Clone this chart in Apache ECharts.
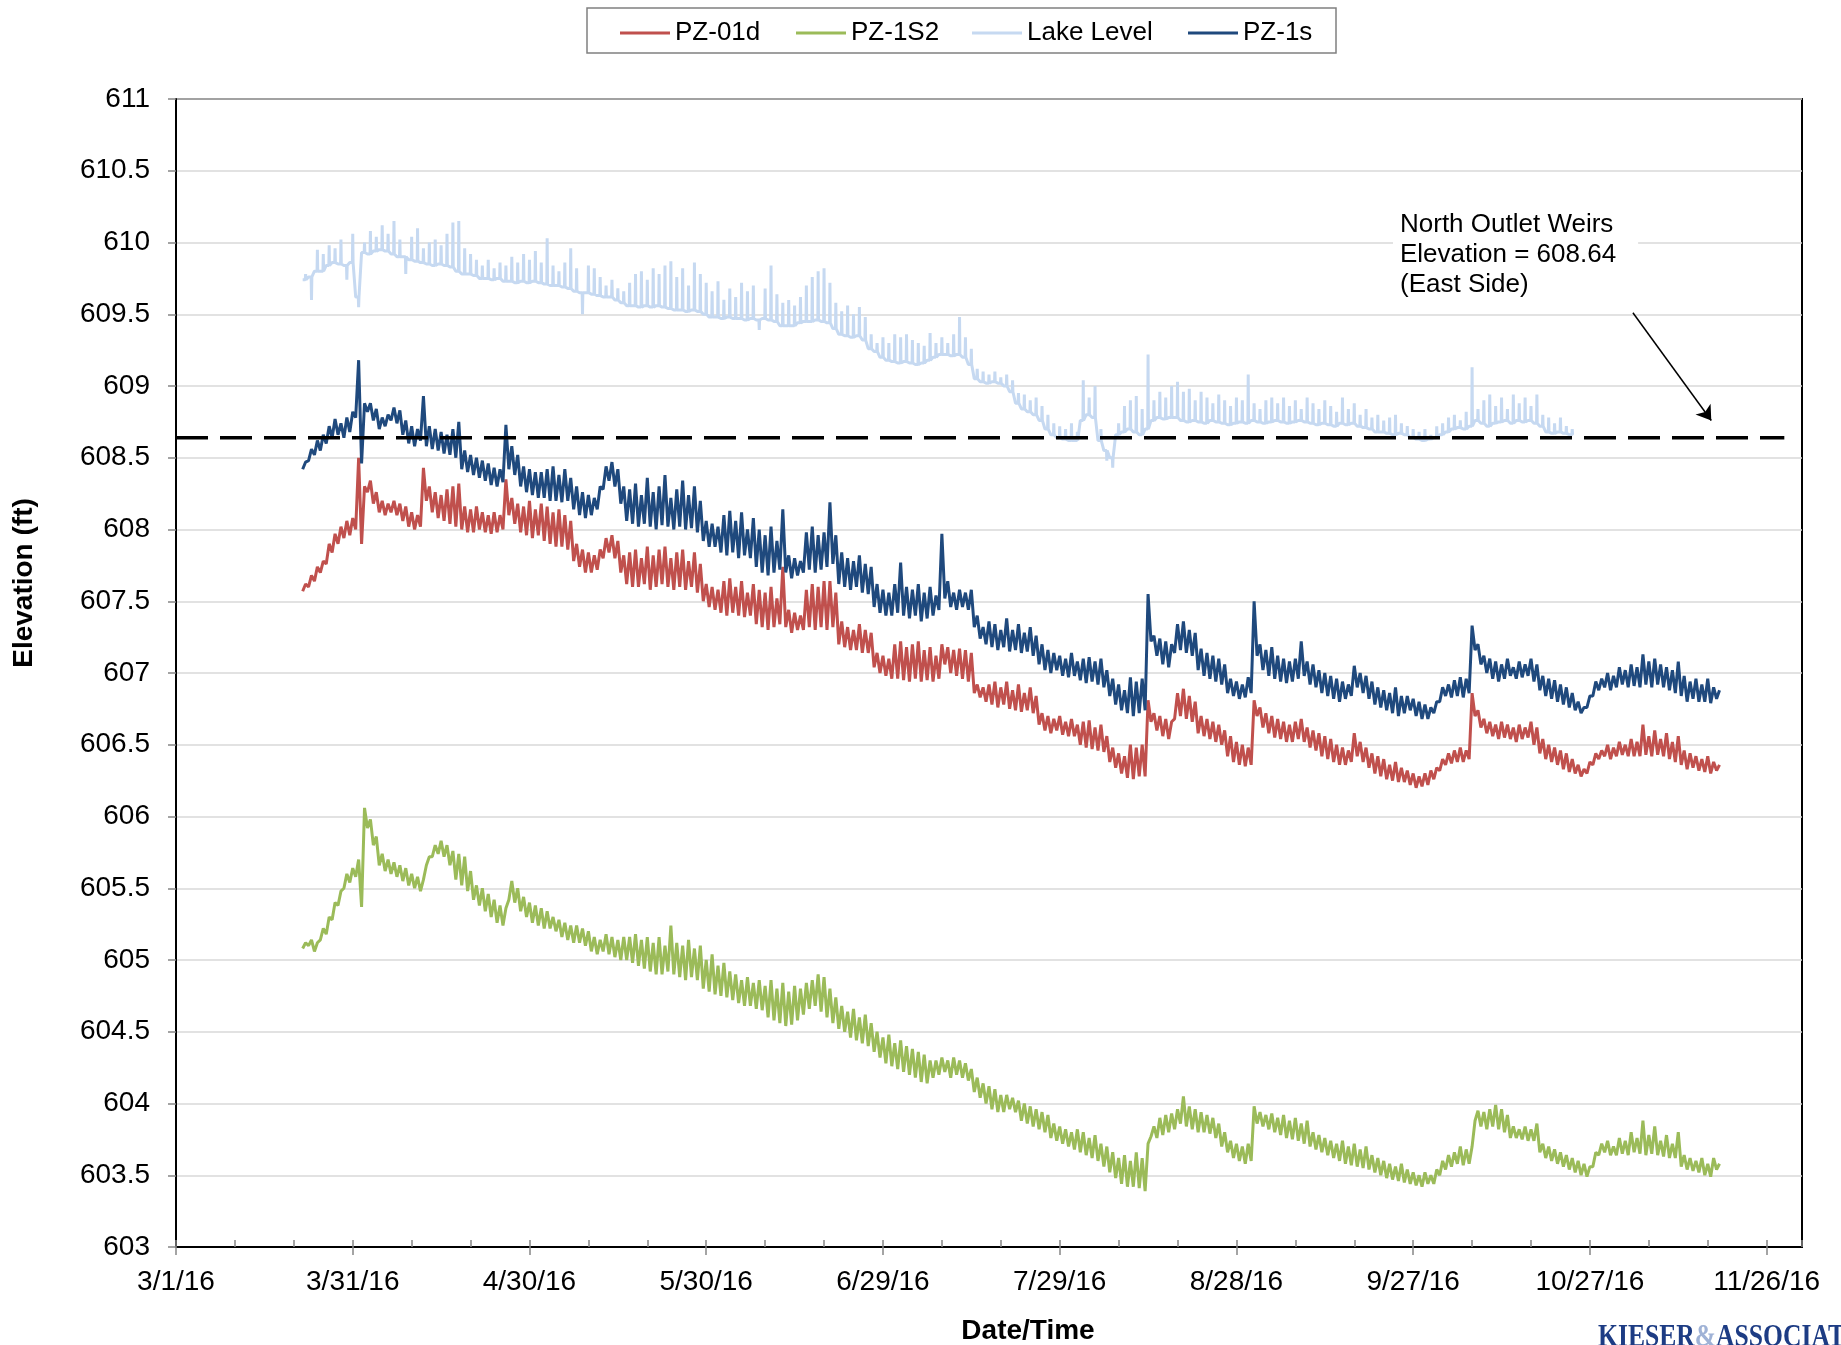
<!DOCTYPE html>
<html>
<head>
<meta charset="utf-8">
<script src="https://cdn.jsdelivr.net/npm/echarts@6/dist/echarts.min.js"></script>
<style>
  html, body { margin: 0; padding: 0; background: #fff; }
  #chart { width: 1841px; height: 1345px; }
</style>
</head>
<body>
<div id="chart"></div>
<script>
// Days are counted from 3/1/16. Each logger series holds one daily low and one daily high,
// beginning at START_DAY; the lake record holds a daily base level and a daily spike reading.
const START_DAY = 21.5;
const X_TICK_DAYS = [0, 276];          // axis span in days
const Y_RANGE = [603, 611];
const WEIR_ELEVATION = 608.64;
const WEIR_SPAN = [0, 273];
const ARROW_FROM = [247.3, 609.51];
const ARROW_TO = [260.6, 608.76];

const pz1sLo = [
  608.42, 608.48, 608.52, 608.55, 608.60, 608.64, 608.66, 608.64, 608.68, 608.78,
  608.46, 608.82, 608.76, 608.70, 608.72, 608.76, 608.74, 608.66, 608.60, 608.58,
  608.62, 608.58, 608.56, 608.55, 608.53, 608.52, 608.50, 608.42, 608.40, 608.38,
  608.36, 608.34, 608.31, 608.30, 608.33, 608.42, 608.38, 608.30, 608.26, 608.24,
  608.22, 608.22, 608.20, 608.20, 608.19, 608.20, 608.14, 608.10, 608.08, 608.10,
  608.14, 608.28, 608.34, 608.30, 608.18, 608.06, 608.04, 608.02, 608.04, 608.02,
  608.00, 608.03, 608.02, 608.00, 608.02, 608.00, 608.01, 607.98, 607.92, 607.88,
  607.88, 607.84, 607.82, 607.84, 607.80, 607.82, 607.80, 607.74, 607.70, 607.68,
  607.70, 607.72, 607.70, 607.66, 607.68, 607.70, 607.72, 607.70, 607.72, 607.74,
  607.76, 607.62, 607.60, 607.58, 607.60, 607.56, 607.55, 607.46, 607.42, 607.40,
  607.40, 607.42, 607.40, 607.38, 607.40, 607.36, 607.38, 607.40, 607.44, 607.52,
  607.46, 607.44, 607.46, 607.44, 607.32, 607.24, 607.20, 607.18, 607.16, 607.18,
  607.15, 607.16, 607.14, 607.15, 607.12, 607.06, 607.02, 607.00, 607.02, 606.98,
  606.97, 606.98, 606.95, 606.93, 606.94, 606.92, 606.90, 606.84, 606.78, 606.74,
  606.72, 606.70, 606.72, 606.74, 607.22, 607.12, 607.06, 607.04, 607.14, 607.16,
  607.14, 607.12, 607.02, 606.98, 606.96, 606.94, 606.92, 606.86, 606.84, 606.82,
  606.83, 606.86, 607.12, 607.02, 606.98, 606.96, 606.94, 606.93, 606.94, 606.96,
  606.98, 606.92, 606.90, 606.86, 606.84, 606.82, 606.80, 606.82, 606.84, 606.90,
  606.86, 606.82, 606.78, 606.76, 606.74, 606.72, 606.70, 606.72, 606.74, 606.70,
  606.68, 606.68, 606.72, 606.80, 606.84, 606.83, 606.84, 606.83, 606.86, 607.16,
  607.06, 607.00, 606.96, 606.94, 606.96, 606.98, 606.96, 606.97, 606.98, 606.94,
  606.88, 606.84, 606.82, 606.80, 606.78, 606.76, 606.74, 606.72, 606.76, 606.84,
  606.88, 606.90, 606.88, 606.90, 606.92, 606.90, 606.91, 606.90, 606.92, 606.90,
  606.92, 606.90, 606.88, 606.86, 606.84, 606.80, 606.82, 606.80, 606.80, 606.79,
  606.82
];
const pz1sHi = [
  608.47, 608.56, 608.62, 608.66, 608.72, 608.77, 608.74, 608.78, 608.82, 609.18,
  608.88, 608.88, 608.84, 608.78, 608.80, 608.85, 608.83, 608.76, 608.72, 608.70,
  608.93, 608.72, 608.70, 608.68, 608.66, 608.70, 608.75, 608.55, 608.52, 608.50,
  608.48, 608.46, 608.43, 608.42, 608.73, 608.58, 608.52, 608.44, 608.42, 608.40,
  608.40, 608.42, 608.44, 608.38, 608.42, 608.36, 608.30, 608.26, 608.24, 608.22,
  608.30, 608.44, 608.47, 608.42, 608.30, 608.28, 608.32, 608.24, 608.36, 608.26,
  608.30, 608.38, 608.22, 608.28, 608.34, 608.24, 608.30, 608.20, 608.06, 608.04,
  608.02, 608.10, 608.13, 608.06, 608.12, 608.00, 608.08, 608.00, 607.96, 608.02,
  607.92, 608.14, 607.82, 607.80, 607.78, 607.98, 608.02, 607.96, 607.98, 608.19,
  607.96, 607.84, 607.80, 607.78, 607.82, 607.76, 607.74, 607.62, 607.58, 607.56,
  607.62, 607.77, 607.60, 607.58, 607.62, 607.56, 607.60, 607.54, 607.97, 607.64,
  607.56, 607.58, 607.56, 607.58, 607.40, 607.32, 607.36, 607.34, 607.30, 607.38,
  607.30, 607.34, 607.28, 607.32, 607.26, 607.20, 607.16, 607.14, 607.12, 607.10,
  607.14, 607.08, 607.10, 607.11, 607.08, 607.10, 607.02, 606.96, 606.92, 606.88,
  606.97, 606.94, 606.96, 607.55, 607.26, 607.24, 607.22, 607.20, 607.34, 607.36,
  607.30, 607.28, 607.17, 607.14, 607.12, 607.10, 607.06, 606.96, 606.94, 606.92,
  606.97, 607.50, 607.20, 607.16, 607.18, 607.12, 607.10, 607.08, 607.10, 607.22,
  607.08, 607.06, 607.02, 607.00, 606.98, 606.96, 606.94, 606.92, 607.05, 607.00,
  606.98, 606.94, 606.90, 606.88, 606.86, 606.90, 606.84, 606.84, 606.82, 606.80,
  606.78, 606.76, 606.80, 606.90, 606.92, 606.95, 606.97, 606.96, 607.33, 607.20,
  607.12, 607.10, 607.08, 607.06, 607.10, 607.04, 607.08, 607.06, 607.10, 607.06,
  606.98, 606.96, 606.95, 606.92, 606.90, 606.86, 606.80, 606.76, 606.84, 606.94,
  606.96, 607.00, 606.98, 607.04, 607.02, 607.06, 607.04, 607.13, 607.08, 607.10,
  607.06, 607.04, 607.02, 607.08, 606.98, 606.94, 606.96, 606.92, 606.96, 606.90,
  606.88
];

const pz01dLo = [
  607.57, 607.60, 607.64, 607.70, 607.76, 607.84, 607.90, 607.94, 607.96, 608.00,
  607.90, 608.26, 608.18, 608.12, 608.10, 608.12, 608.10, 608.06, 608.02, 608.00,
  608.02, 608.20, 608.12, 608.08, 608.06, 608.04, 608.02, 608.00, 607.98, 607.98,
  608.00, 607.98, 607.97, 607.98, 608.00, 608.10, 608.04, 607.98, 607.96, 607.94,
  607.96, 607.92, 607.90, 607.88, 607.88, 607.86, 607.78, 607.74, 607.70, 607.70,
  607.72, 607.80, 607.84, 607.80, 607.70, 607.62, 607.60, 607.60, 607.62, 607.58,
  607.60, 607.62, 607.60, 607.58, 607.60, 607.58, 607.60, 607.56, 607.50, 607.46,
  607.44, 607.42, 607.40, 607.42, 607.40, 607.39, 607.40, 607.34, 607.32, 607.30,
  607.32, 607.34, 607.32, 607.28, 607.30, 607.30, 607.32, 607.30, 607.32, 607.30,
  607.32, 607.20, 607.18, 607.16, 607.16, 607.14, 607.14, 607.04, 607.00, 606.98,
  606.96, 606.96, 606.95, 606.94, 606.96, 606.94, 606.95, 606.94, 606.96, 607.06,
  607.00, 606.98, 606.96, 606.94, 606.86, 606.83, 606.80, 606.78, 606.76, 606.78,
  606.75, 606.74, 606.73, 606.74, 606.72, 606.64, 606.60, 606.58, 606.60, 606.57,
  606.56, 606.56, 606.50, 606.48, 606.47, 606.46, 606.45, 606.38, 606.34, 606.30,
  606.27, 606.26, 606.28, 606.28, 606.66, 606.60, 606.56, 606.54, 606.68, 606.70,
  606.68, 606.66, 606.58, 606.56, 606.54, 606.52, 606.50, 606.42, 606.38, 606.36,
  606.35, 606.36, 606.70, 606.62, 606.58, 606.55, 606.54, 606.52, 606.52, 606.54,
  606.52, 606.48, 606.46, 606.42, 606.40, 606.38, 606.36, 606.36, 606.38, 606.42,
  606.38, 606.34, 606.30, 606.28, 606.26, 606.25, 606.24, 606.24, 606.22, 606.20,
  606.21, 606.22, 606.26, 606.32, 606.36, 606.37, 606.38, 606.38, 606.40, 606.70,
  606.62, 606.58, 606.56, 606.54, 606.55, 606.54, 606.52, 606.54, 606.55, 606.50,
  606.44, 606.40, 606.38, 606.36, 606.33, 606.31, 606.30, 606.28, 606.30, 606.36,
  606.40, 606.42, 606.40, 606.42, 606.43, 606.42, 606.42, 606.42, 606.43, 606.42,
  606.43, 606.42, 606.40, 606.38, 606.36, 606.33, 606.34, 606.32, 606.31, 606.30,
  606.32
];
const pz01dHi = [
  607.62, 607.68, 607.74, 607.78, 607.90, 607.97, 608.02, 608.06, 608.08, 608.50,
  608.30, 608.34, 608.26, 608.20, 608.18, 608.20, 608.18, 608.16, 608.12, 608.10,
  608.43, 608.30, 608.26, 608.24, 608.28, 608.30, 608.32, 608.16, 608.14, 608.16,
  608.12, 608.10, 608.12, 608.10, 608.35, 608.22, 608.18, 608.16, 608.20, 608.14,
  608.18, 608.16, 608.12, 608.14, 608.10, 608.06, 607.90, 607.86, 607.84, 607.82,
  607.86, 607.94, 607.96, 607.92, 607.82, 607.84, 607.86, 607.80, 607.88, 607.82,
  607.86, 607.88, 607.80, 607.84, 607.86, 607.78, 607.84, 607.76, 607.62, 607.60,
  607.58, 607.64, 607.66, 607.60, 607.64, 607.56, 607.62, 607.58, 607.56, 607.60,
  607.52, 607.74, 607.44, 607.42, 607.40, 607.58, 607.62, 607.60, 607.64, 607.64,
  607.56, 607.36, 607.32, 607.30, 607.34, 607.30, 607.28, 607.14, 607.12, 607.10,
  607.20, 607.22, 607.18, 607.20, 607.22, 607.16, 607.18, 607.12, 607.20, 607.18,
  607.16, 607.17, 607.16, 607.14, 606.92, 606.90, 606.92, 606.94, 606.90, 606.94,
  606.88, 606.92, 606.86, 606.90, 606.84, 606.72, 606.70, 606.68, 606.70, 606.66,
  606.68, 606.64, 606.66, 606.67, 606.62, 606.64, 606.56, 606.48, 606.44, 606.42,
  606.50, 606.48, 606.50, 606.81, 606.72, 606.70, 606.68, 606.66, 606.86, 606.89,
  606.84, 606.80, 606.70, 606.68, 606.66, 606.64, 606.60, 606.56, 606.52, 606.50,
  606.48, 606.81, 606.76, 606.72, 606.70, 606.68, 606.66, 606.64, 606.66, 606.68,
  606.62, 606.60, 606.58, 606.56, 606.54, 606.50, 606.48, 606.46, 606.58, 606.52,
  606.48, 606.44, 606.42, 606.40, 606.36, 606.38, 606.34, 606.32, 606.30, 606.28,
  606.30, 606.32, 606.34, 606.40, 606.44, 606.46, 606.48, 606.46, 606.86, 606.74,
  606.68, 606.66, 606.64, 606.66, 606.64, 606.62, 606.64, 606.62, 606.66, 606.62,
  606.54, 606.50, 606.48, 606.46, 606.44, 606.40, 606.36, 606.33, 606.38, 606.44,
  606.46, 606.50, 606.48, 606.52, 606.50, 606.54, 606.52, 606.64, 606.56, 606.60,
  606.54, 606.58, 606.52, 606.56, 606.46, 606.44, 606.42, 606.40, 606.42, 606.38,
  606.36
];

const pz1s2Lo = [
  605.08, 605.10, 605.06, 605.14, 605.18, 605.28, 605.38, 605.50, 605.54, 605.58,
  605.37, 605.92, 605.80, 605.66, 605.62, 605.60, 605.58, 605.55, 605.52, 605.50,
  605.48, 605.66, 605.72, 605.74, 605.72, 605.66, 605.56, 605.52, 605.48, 605.42,
  605.38, 605.34, 605.30, 605.26, 605.24, 605.42, 605.40, 605.34, 605.30, 605.26,
  605.24, 605.22, 605.22, 605.20, 605.16, 605.14, 605.12, 605.12, 605.10, 605.06,
  605.04, 605.06, 605.04, 605.02, 605.00, 605.00, 604.98, 604.96, 604.94, 604.92,
  604.90, 604.90, 604.92, 604.90, 604.88, 604.86, 604.88, 604.86, 604.80, 604.78,
  604.76, 604.75, 604.74, 604.72, 604.70, 604.68, 604.68, 604.66, 604.65, 604.60,
  604.58, 604.56, 604.54, 604.55, 604.58, 604.62, 604.66, 604.68, 604.64, 604.60,
  604.56, 604.52, 604.50, 604.46, 604.44, 604.42, 604.40, 604.36, 604.32, 604.28,
  604.26, 604.24, 604.22, 604.20, 604.18, 604.15, 604.14, 604.18, 604.20, 604.22,
  604.18, 604.20, 604.18, 604.16, 604.08, 604.04, 604.00, 603.96, 603.94, 603.94,
  603.96, 603.94, 603.88, 603.86, 603.84, 603.82, 603.80, 603.76, 603.74, 603.72,
  603.70, 603.68, 603.66, 603.64, 603.62, 603.60, 603.56, 603.52, 603.48, 603.44,
  603.42, 603.42, 603.41, 603.39, 603.77, 603.76, 603.78, 603.80, 603.82, 603.86,
  603.84, 603.82, 603.80, 603.80, 603.79, 603.76, 603.70, 603.66, 603.62, 603.60,
  603.58, 603.60, 603.86, 603.84, 603.82, 603.80, 603.78, 603.76, 603.75, 603.74,
  603.72, 603.70, 603.68, 603.66, 603.64, 603.62, 603.60, 603.58, 603.57, 603.56,
  603.55, 603.54, 603.52, 603.50, 603.48, 603.47, 603.46, 603.45, 603.44, 603.43,
  603.42, 603.44, 603.44, 603.50, 603.54, 603.56, 603.58, 603.57, 603.58, 603.88,
  603.84, 603.82, 603.84, 603.82, 603.80, 603.76, 603.76, 603.75, 603.74, 603.74,
  603.66, 603.62, 603.60, 603.58, 603.56, 603.54, 603.52, 603.50, 603.49, 603.56,
  603.64, 603.66, 603.64, 603.64, 603.65, 603.64, 603.66, 603.65, 603.64, 603.65,
  603.64, 603.63, 603.62, 603.62, 603.56, 603.54, 603.53, 603.52, 603.50, 603.49,
  603.54
];
const pz1s2Hi = [
  605.12, 605.14, 605.12, 605.22, 605.30, 605.40, 605.48, 605.60, 605.64, 605.70,
  606.06, 605.98, 605.86, 605.74, 605.70, 605.68, 605.66, 605.64, 605.60, 605.58,
  605.56, 605.72, 605.80, 605.83, 605.80, 605.76, 605.74, 605.72, 605.62, 605.52,
  605.50, 605.46, 605.42, 605.38, 605.36, 605.55, 605.50, 605.44, 605.40, 605.38,
  605.36, 605.34, 605.30, 605.28, 605.26, 605.24, 605.24, 605.22, 605.20, 605.16,
  605.14, 605.18, 605.16, 605.14, 605.16, 605.16, 605.18, 605.14, 605.16, 605.12,
  605.16, 605.10, 605.24, 605.12, 605.10, 605.14, 605.08, 605.10, 605.00, 605.04,
  604.96, 604.98, 604.92, 604.90, 604.86, 604.88, 604.84, 604.86, 604.82, 604.86,
  604.80, 604.84, 604.78, 604.82, 604.80, 604.84, 604.86, 604.90, 604.88, 604.80,
  604.74, 604.68, 604.64, 604.66, 604.60, 604.62, 604.56, 604.50, 604.46, 604.48,
  604.42, 604.44, 604.40, 604.38, 604.36, 604.34, 604.30, 604.30, 604.32, 604.30,
  604.32, 604.30, 604.28, 604.24, 604.18, 604.14, 604.12, 604.10, 604.06, 604.06,
  604.04, 604.02, 604.00, 603.98, 603.96, 603.94, 603.92, 603.86, 603.84, 603.82,
  603.80, 603.82, 603.80, 603.76, 603.78, 603.72, 603.70, 603.66, 603.62, 603.64,
  603.60, 603.66, 603.62, 603.72, 603.84, 603.90, 603.92, 603.93, 603.96, 604.05,
  603.98, 603.96, 603.94, 603.92, 603.90, 603.86, 603.80, 603.74, 603.72, 603.70,
  603.72, 603.98, 603.94, 603.92, 603.93, 603.90, 603.92, 603.88, 603.90, 603.86,
  603.88, 603.80, 603.78, 603.76, 603.74, 603.72, 603.74, 603.70, 603.72, 603.68,
  603.70, 603.64, 603.62, 603.60, 603.58, 603.56, 603.58, 603.54, 603.52, 603.50,
  603.52, 603.50, 603.54, 603.60, 603.64, 603.66, 603.70, 603.68, 603.70, 603.95,
  603.94, 603.96, 603.99, 603.96, 603.92, 603.84, 603.82, 603.84, 603.82, 603.86,
  603.72, 603.70, 603.68, 603.66, 603.64, 603.62, 603.60, 603.58, 603.56, 603.66,
  603.72, 603.74, 603.70, 603.76, 603.74, 603.80, 603.76, 603.88, 603.78, 603.84,
  603.74, 603.78, 603.72, 603.80, 603.64, 603.62, 603.60, 603.62, 603.58, 603.62,
  603.58
];

const lakeBase = [
  609.74, 609.76, 609.80, 609.80, 609.84, 609.86, 609.85, 609.84, 609.86, 609.62,
  609.93, 609.92, 609.94, 609.95, 609.94, 609.92, 609.90, 609.90, 609.88, 609.87,
  609.86, 609.85, 609.84, 609.85, 609.84, 609.83, 609.80, 609.78, 609.78, 609.77,
  609.75, 609.75, 609.74, 609.75, 609.73, 609.73, 609.72, 609.73, 609.72, 609.73,
  609.72, 609.71, 609.70, 609.70, 609.69, 609.68, 609.66, 609.65, 609.65, 609.64,
  609.63, 609.62, 609.62, 609.60, 609.58, 609.56, 609.56, 609.55, 609.56, 609.55,
  609.56, 609.55, 609.54, 609.53, 609.53, 609.52, 609.53, 609.52, 609.50, 609.48,
  609.48, 609.47, 609.48, 609.47, 609.47, 609.46, 609.47, 609.46, 609.47, 609.46,
  609.45, 609.42, 609.42, 609.42, 609.44, 609.45, 609.45, 609.46, 609.45, 609.44,
  609.40, 609.36, 609.35, 609.34, 609.35, 609.32, 609.26, 609.24, 609.20, 609.18,
  609.17, 609.16, 609.17, 609.16, 609.15, 609.16, 609.18, 609.20, 609.22, 609.22,
  609.21, 609.22, 609.20, 609.15, 609.05, 609.03, 609.02, 609.03, 609.02, 609.00,
  608.96, 608.88, 608.84, 608.82, 608.80, 608.76, 608.70, 608.66, 608.64, 608.63,
  608.62, 608.62, 608.76, 608.80, 608.78, 608.62, 608.55, 608.50, 608.66, 608.68,
  608.70, 608.68, 608.66, 608.70, 608.76, 608.78, 608.77, 608.78, 608.78, 608.76,
  608.75, 608.76, 608.75, 608.74, 608.76, 608.75, 608.74, 608.73, 608.74, 608.75,
  608.74, 608.76, 608.75, 608.74, 608.75, 608.76, 608.75, 608.74, 608.75, 608.76,
  608.75, 608.74, 608.73, 608.74, 608.73, 608.72, 608.74, 608.73, 608.74, 608.72,
  608.71, 608.70, 608.68, 608.68, 608.67, 608.66, 608.67, 608.66, 608.64, 608.63,
  608.62, 608.63, 608.64, 608.66, 608.68, 608.70, 608.71, 608.70, 608.72, 608.76,
  608.74, 608.72, 608.74, 608.75, 608.76, 608.74, 608.76, 608.75, 608.76, 608.74,
  608.72, 608.68, 608.67, 608.68, 608.67, 608.66
];
const lakeSpike = [
  609.78, 609.60, 609.95, 609.92, 609.98, 609.96, 610.02, 609.74, 610.06, 609.55,
  610.00, 610.08, 610.04, 610.12, 610.06, 610.15, 610.02, 609.78, 610.04, 610.10,
  609.96, 610.00, 610.02, 609.98, 610.06, 610.14, 610.15, 609.96, 609.92, 609.88,
  609.84, 609.88, 609.82, 609.86, 609.84, 609.90, 609.86, 609.92, 609.88, 609.94,
  609.86, 610.03, 609.84, 609.80, 609.86, 609.96, 609.82, 609.50, 609.84, 609.82,
  609.76, 609.70, 609.74, 609.68, 609.66, 609.72, 609.78, 609.80, 609.74, 609.82,
  609.78, 609.84, 609.87, 609.76, 609.82, 609.70, 609.86, 609.78, 609.72, 609.66,
  609.73, 609.60, 609.68, 609.62, 609.72, 609.66, 609.70, 609.39, 609.68, 609.84,
  609.64, 609.58, 609.60, 609.56, 609.62, 609.70, 609.76, 609.80, 609.82, 609.72,
  609.58, 609.52, 609.56, 609.50, 609.55, 609.48, 609.36, 609.30, 609.34, 609.30,
  609.36, 609.34, 609.36, 609.32, 609.30, 609.28, 609.37, 609.30, 609.34, 609.30,
  609.36, 609.48, 609.34, 609.26, 609.12, 609.10, 609.08, 609.10, 609.06, 609.08,
  609.04, 608.95, 608.94, 608.90, 608.92, 608.86, 608.80, 608.74, 608.72, 608.70,
  608.74, 608.68, 609.04, 608.92, 609.00, 608.70, 608.48, 608.43, 608.74, 608.86,
  608.90, 608.93, 608.84, 609.22, 608.90, 608.96, 608.92, 609.00, 609.03, 608.96,
  608.98, 608.90, 608.96, 608.92, 608.88, 608.94, 608.90, 608.86, 608.92, 608.90,
  609.08, 608.88, 608.84, 608.90, 608.92, 608.88, 608.92, 608.86, 608.90, 608.84,
  608.92, 608.88, 608.84, 608.90, 608.86, 608.82, 608.92, 608.84, 608.88, 608.80,
  608.84, 608.78, 608.80, 608.76, 608.78, 608.80, 608.74, 608.72, 608.70, 608.68,
  608.70, 608.66, 608.72, 608.74, 608.78, 608.80, 608.76, 608.82, 609.13, 608.84,
  608.90, 608.94, 608.86, 608.92, 608.84, 608.94, 608.88, 608.92, 608.86, 608.94,
  608.80, 608.78, 608.74, 608.78, 608.72, 608.70
];

const SERIES_NAMES = ['PZ-01d', 'PZ-1S2', 'Lake Level', 'PZ-1s'];
const SERIES_COLORS = ['#C0504D', '#9BBB59', '#C6D9F1', '#1F497D'];

const FONT = '"Liberation Sans", Arial, Helvetica, sans-serif';
const DAY_MS = 86400000;
const ORIGIN = Date.UTC(2016, 2, 1);

// Interleave a daily low reading with the same day's high reading.
function dailyTrace(lo, hi, start) {
  const out = [];
  for (let i = 0; i < lo.length; i++) {
    out.push([start + i, lo[i]]);
    out.push([start + i + 0.5, hi[i]]);
  }
  return out;
}

// The lake gauge sits at its base level through the day; its spike reading is a brief excursion.
function spikeTrace(base, spike, start) {
  const out = [];
  for (let i = 0; i < base.length; i++) {
    out.push([start + i, base[i]]);
    out.push([start + i + 0.44, base[i]]);
    out.push([start + i + 0.5, spike[i]]);
    out.push([start + i + 0.56, base[i]]);
  }
  return out;
}

function dayLabel(v) {
  const d = new Date(ORIGIN + Math.round(v) * DAY_MS);
  return (d.getUTCMonth() + 1) + '/' + d.getUTCDate() + '/' + String(d.getUTCFullYear()).slice(2);
}

function loggerSeries(idx, data, width) {
  return {
    name: SERIES_NAMES[idx],
    type: 'line',
    data: data,
    symbol: 'none',
    showSymbol: false,
    sampling: null,
    lineStyle: { color: SERIES_COLORS[idx], width: width },
    itemStyle: { color: SERIES_COLORS[idx] },
    silent: true,
    animation: false
  };
}

const chart = echarts.init(document.getElementById('chart'), null, { renderer: 'canvas' });

const legendSlots = [620, 796, 972, 1188];

const option = {
  backgroundColor: '#ffffff',
  animation: false,
  grid: {
    left: 176, right: 39, top: 99, bottom: 98,
    show: true, borderColor: '#000', borderWidth: 2,
    containLabel: false, outerBoundsMode: 'none'
  },
  legend: SERIES_NAMES.map((n, i) => ({
    data: [{ name: n, icon: 'rect' }],
    left: legendSlots[i],
    top: 20,
    padding: 0,
    itemWidth: 50,
    itemHeight: 3,
    itemGap: 0,
    selectedMode: false,
    z: 10,
    itemStyle: { color: SERIES_COLORS[i], borderWidth: 0 },
    textStyle: { fontSize: 26, fontFamily: FONT, color: '#000' }
  })),
  xAxis: [
    {
      type: 'value',
      min: X_TICK_DAYS[0], max: X_TICK_DAYS[1], interval: 30,
      axisLine: { show: true, lineStyle: { color: '#000', width: 2 } },
      axisTick: { show: true, inside: false, length: 8, lineStyle: { color: '#868686', width: 1.5 } },
      axisLabel: {
        formatter: dayLabel, fontSize: 28, fontFamily: FONT, color: '#000',
        margin: 21, showMaxLabel: false, showMinLabel: true
      },
      splitLine: { show: false }
    },
    {
      type: 'value', position: 'bottom',
      min: X_TICK_DAYS[0], max: X_TICK_DAYS[1], interval: 10,
      axisLine: { show: false },
      axisTick: { show: true, inside: true, length: 7, lineStyle: { color: '#868686', width: 1.5 } },
      axisLabel: { show: false },
      splitLine: { show: false }
    }
  ],
  yAxis: {
    type: 'value',
    min: Y_RANGE[0], max: Y_RANGE[1], interval: 0.5,
    axisLine: { show: true, lineStyle: { color: '#000', width: 2 } },
    axisTick: { show: true, inside: false, length: 8, lineStyle: { color: '#868686', width: 1.5 } },
    axisLabel: { fontSize: 28, fontFamily: FONT, color: '#000', margin: 26 },
    splitLine: { show: true, lineStyle: { color: '#d9d9d9', width: 1.5 } }
  },
  series: [
    loggerSeries(0, dailyTrace(pz01dLo, pz01dHi, START_DAY), 3),
    loggerSeries(1, dailyTrace(pz1s2Lo, pz1s2Hi, START_DAY), 3),
    loggerSeries(2, spikeTrace(lakeBase, lakeSpike, START_DAY), 3),
    loggerSeries(3, dailyTrace(pz1sLo, pz1sHi, START_DAY), 3),
    {
      name: 'weir',
      type: 'line',
      data: [[WEIR_SPAN[0], WEIR_ELEVATION], [WEIR_SPAN[1], WEIR_ELEVATION]],
      symbol: 'none',
      silent: true,
      animation: false,
      z: 5,
      lineStyle: { color: '#000', width: 3.5, type: [32, 12] },
      markLine: {
        silent: true,
        animation: false,
        symbol: ['none', 'arrow'],
        symbolSize: 14,
        label: { show: false },
        lineStyle: { color: '#000', width: 1.5, type: 'solid' },
        emphasis: { disabled: true },
        data: [[{ coord: ARROW_FROM }, { coord: ARROW_TO }]]
      }
    }
  ],
  graphic: [
    {
      type: 'rect', z: 1,
      shape: { x: 587, y: 8, width: 749, height: 45 },
      style: { fill: '#fff', stroke: '#808080', lineWidth: 1.5 }
    },
    {
      type: 'text', z: 20,
      x: 1393, y: 203,
      style: {
        text: 'North Outlet Weirs\nElevation = 608.64\n(East Side)',
        font: '26px ' + FONT, lineHeight: 30, fill: '#000',
        backgroundColor: '#fff', padding: [7, 22, 8, 7],
        align: 'left', verticalAlign: 'top'
      }
    },
    {
      type: 'text', z: 20,
      x: 24, y: 583, rotation: Math.PI / 2,
      style: {
        text: 'Elevation (ft)', font: 'bold 28px ' + FONT, fill: '#000',
        align: 'center', verticalAlign: 'middle'
      }
    },
    {
      type: 'text', z: 20,
      x: 1028, y: 1331,
      style: {
        text: 'Date/Time', font: 'bold 28px ' + FONT, fill: '#000',
        align: 'center', verticalAlign: 'middle'
      }
    },
    {
      type: 'text', z: 20,
      x: 1598, y: 1322, scaleX: 0.8,
      style: {
        text: '{a|KIESER}{b|&}{a|ASSOCIATES}',
        rich: {
          a: { font: 'bold 32px "Liberation Serif", "Times New Roman", serif', fill: '#1d3c84' },
          b: { font: 'bold 32px "Liberation Serif", "Times New Roman", serif', fill: '#9fb2d6' }
        },
        align: 'left', verticalAlign: 'top'
      }
    }
  ]
};

chart.setOption(option);
</script>
</body>
</html>
